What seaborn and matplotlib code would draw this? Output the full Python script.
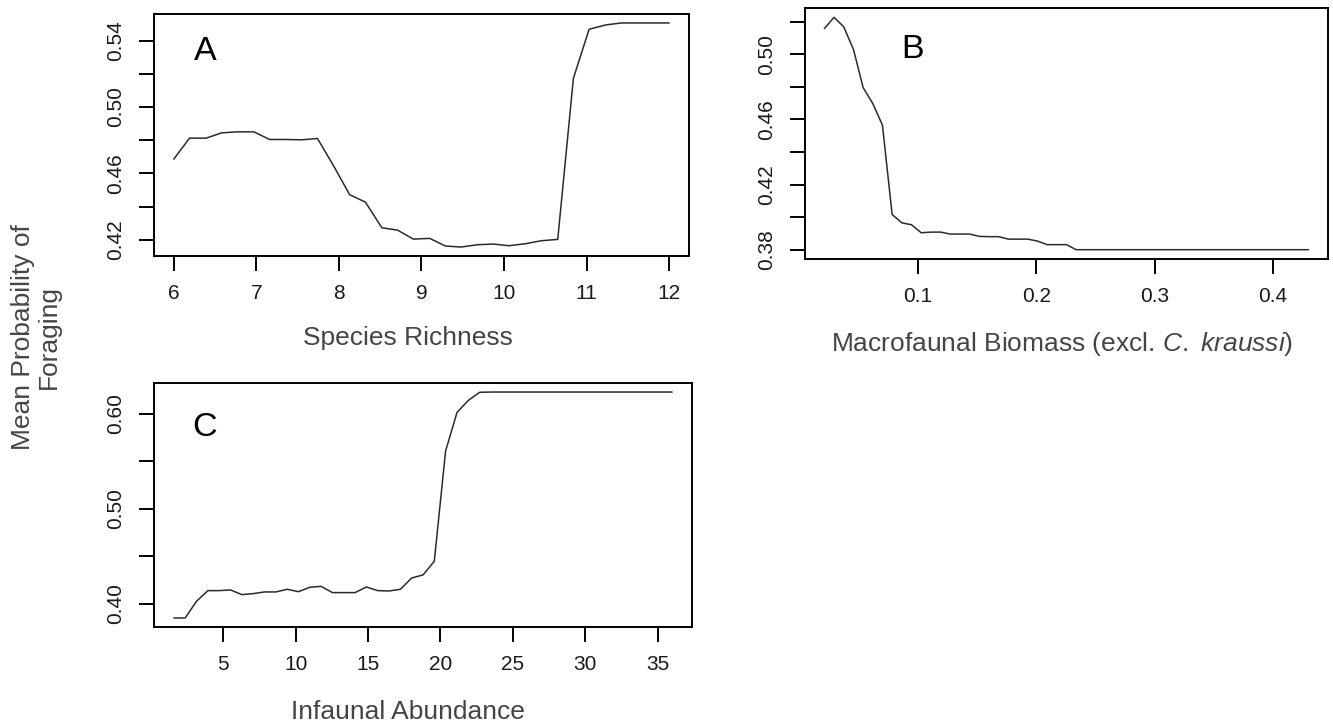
import numpy as np
import pandas as pd
import matplotlib
matplotlib.use("Agg")
import matplotlib.pyplot as plt
import seaborn as sns

# partial dependence curves
richness = [6.00, 6.19, 6.39, 6.58, 6.77, 6.97, 7.16, 7.35, 7.55, 7.74, 7.94,
            8.13, 8.32, 8.52, 8.71, 8.90, 9.10, 9.29, 9.48, 9.68, 9.87, 10.06,
            10.26, 10.45, 10.65, 10.84, 11.03, 11.23, 11.42, 11.61, 11.81, 12.00]
prob_richness = [0.4686, 0.4812, 0.4812, 0.4844, 0.4850, 0.4850, 0.4804, 0.4804,
                 0.4802, 0.4810, 0.4641, 0.4471, 0.4427, 0.4272, 0.4258, 0.4204,
                 0.4208, 0.4162, 0.4156, 0.4170, 0.4174, 0.4164, 0.4176, 0.4194,
                 0.4202, 0.5173, 0.5468, 0.5494, 0.5506, 0.5506, 0.5506, 0.5506]

biomass = [0.0207, 0.0289, 0.0371, 0.0453, 0.0535, 0.0617, 0.0698, 0.0780, 0.0862,
           0.0944, 0.1026, 0.1108, 0.1190, 0.1272, 0.1354, 0.1436, 0.1517, 0.1599,
           0.1681, 0.1763, 0.1845, 0.1927, 0.2009, 0.2091, 0.2173, 0.2255, 0.2336,
           0.2418, 0.2500, 0.2582, 0.2664, 0.2746, 0.2828, 0.2910, 0.2992, 0.3074,
           0.3155, 0.3237, 0.3319, 0.3401, 0.3483, 0.3565, 0.3647, 0.3729, 0.3811,
           0.3893, 0.3974, 0.4056, 0.4138, 0.4220, 0.4302]
prob_biomass = [0.5158, 0.5227, 0.5168, 0.5030, 0.4795, 0.4697, 0.4565, 0.4016,
                0.3965, 0.3953, 0.3904, 0.3908, 0.3908, 0.3896, 0.3896, 0.3896,
                0.3882, 0.3880, 0.3880, 0.3865, 0.3865, 0.3865, 0.3853, 0.3831,
                0.3831, 0.3831, 0.3800, 0.3800, 0.3800, 0.3800, 0.3800, 0.3800,
                0.3800, 0.3800, 0.3800, 0.3800, 0.3800, 0.3800, 0.3800, 0.3800,
                0.3800, 0.3800, 0.3800, 0.3800, 0.3800, 0.3800, 0.3800, 0.3800,
                0.3800, 0.3800, 0.3800]

abundance = [1.60, 2.38, 3.16, 3.95, 4.73, 5.51, 6.29, 7.07, 7.85, 8.64, 9.42,
             10.20, 10.98, 11.76, 12.55, 13.33, 14.11, 14.89, 15.67, 16.45, 17.24,
             18.02, 18.80, 19.58, 20.36, 21.15, 21.93, 22.71, 23.49, 24.27, 25.05,
             25.84, 26.62, 27.40, 28.18, 28.96, 29.75, 30.53, 31.31, 32.09, 32.87,
             33.65, 34.44, 35.22, 36.00]
prob_abundance = [0.3849, 0.3849, 0.4025, 0.4137, 0.4137, 0.4144, 0.4095, 0.4105,
                  0.4123, 0.4123, 0.4151, 0.4126, 0.4172, 0.4182, 0.4116, 0.4116,
                  0.4116, 0.4175, 0.4137, 0.4133, 0.4151, 0.4270, 0.4302, 0.4446,
                  0.5607, 0.6014, 0.6140, 0.6225, 0.6228, 0.6228, 0.6228, 0.6228,
                  0.6228, 0.6228, 0.6228, 0.6228, 0.6228, 0.6228, 0.6228, 0.6228,
                  0.6228, 0.6228, 0.6228, 0.6228, 0.6228]

xticks_a = [6, 7, 8, 9, 10, 11, 12]
yticks_a = [0.42, 0.44, 0.46, 0.48, 0.50, 0.52, 0.54]
ylabels_a = ["0.42", "", "0.46", "", "0.50", "", "0.54"]
xticks_b = [0.1, 0.2, 0.3, 0.4]
yticks_b = [0.38, 0.40, 0.42, 0.44, 0.46, 0.48, 0.50, 0.52]
ylabels_b = ["0.38", "", "0.42", "", "0.46", "", "0.50", ""]
xticks_c = [5, 10, 15, 20, 25, 30, 35]
yticks_c = [0.40, 0.45, 0.50, 0.55, 0.60]
ylabels_c = ["0.40", "", "0.50", "", "0.60"]

sns.set_style("ticks")
plt.rcParams['font.family'] = ['Liberation Sans', 'DejaVu Sans']
plt.rcParams['mathtext.fontset'] = 'custom'
plt.rcParams['mathtext.rm'] = 'Liberation Sans'
plt.rcParams['mathtext.it'] = 'Liberation Sans:italic'

W, H = 1333, 725
fig = plt.figure(figsize=(W / 100, H / 100), dpi=100)

def box(l, t, r, b):
    return [l / W, 1 - b / H, (r - l) / W, (b - t) / H]

ax_a = fig.add_axes(box(154, 14, 689, 256))
ax_b = fig.add_axes(box(805, 8, 1328, 259))
ax_c = fig.add_axes(box(154, 383, 692, 627))

panels = [
    (ax_a, richness, prob_richness, xticks_a, [str(t) for t in xticks_a], yticks_a, ylabels_a, "A", (205, 52)),
    (ax_b, biomass, prob_biomass, xticks_b, [str(t) for t in xticks_b], yticks_b, ylabels_b, "B", (912, 49)),
    (ax_c, abundance, prob_abundance, xticks_c, [str(t) for t in xticks_c], yticks_c, ylabels_c, "C", (205, 428)),
]

for ax, x, y, xt, xl, yt, yl, letter, pos in panels:
    df = pd.DataFrame({"x": x, "y": y})
    sns.lineplot(data=df, x="x", y="y", ax=ax, color="#2b2b2b", linewidth=1.1)
    ax.margins(x=0.04, y=0.04)
    ax.set_xticks(xt)
    ax.set_xticklabels(xl)
    ax.set_yticks(yt)
    ax.set_yticklabels(yl, rotation=90, va="center")
    ax.set_xlabel("")
    ax.set_ylabel("")
    for s in ax.spines.values():
        s.set_visible(True)
        s.set_linewidth(1.4)
        s.set_color("black")
    ax.tick_params(length=10.5, width=1.4, direction="out", labelsize=15,
                   pad=10, colors="black", labelcolor="#1a1a1a")
    fig.text(pos[0] / W, 1 - pos[1] / H, letter, fontsize=24.5,
             ha="center", va="center", color="black")

lab = dict(fontsize=19, color="#454545", ha="center", va="center")
fig.text(408 / W, 1 - 338 / H, "Species Richness", **lab)
fig.text(1062 / W, 1 - 344 / H, "Macrofaunal Biomass (excl. $\\it{C.}$ $\\it{kraussi}$)", **lab)
fig.text(408 / W, 1 - 712 / H, "Infaunal Abundance", **lab)
fig.text(36 / W, 1 - 337 / H, "Mean Probability of\nForaging", rotation=90,
         multialignment="center", linespacing=1.1, **lab)

fig.savefig("out.png", dpi=100)
